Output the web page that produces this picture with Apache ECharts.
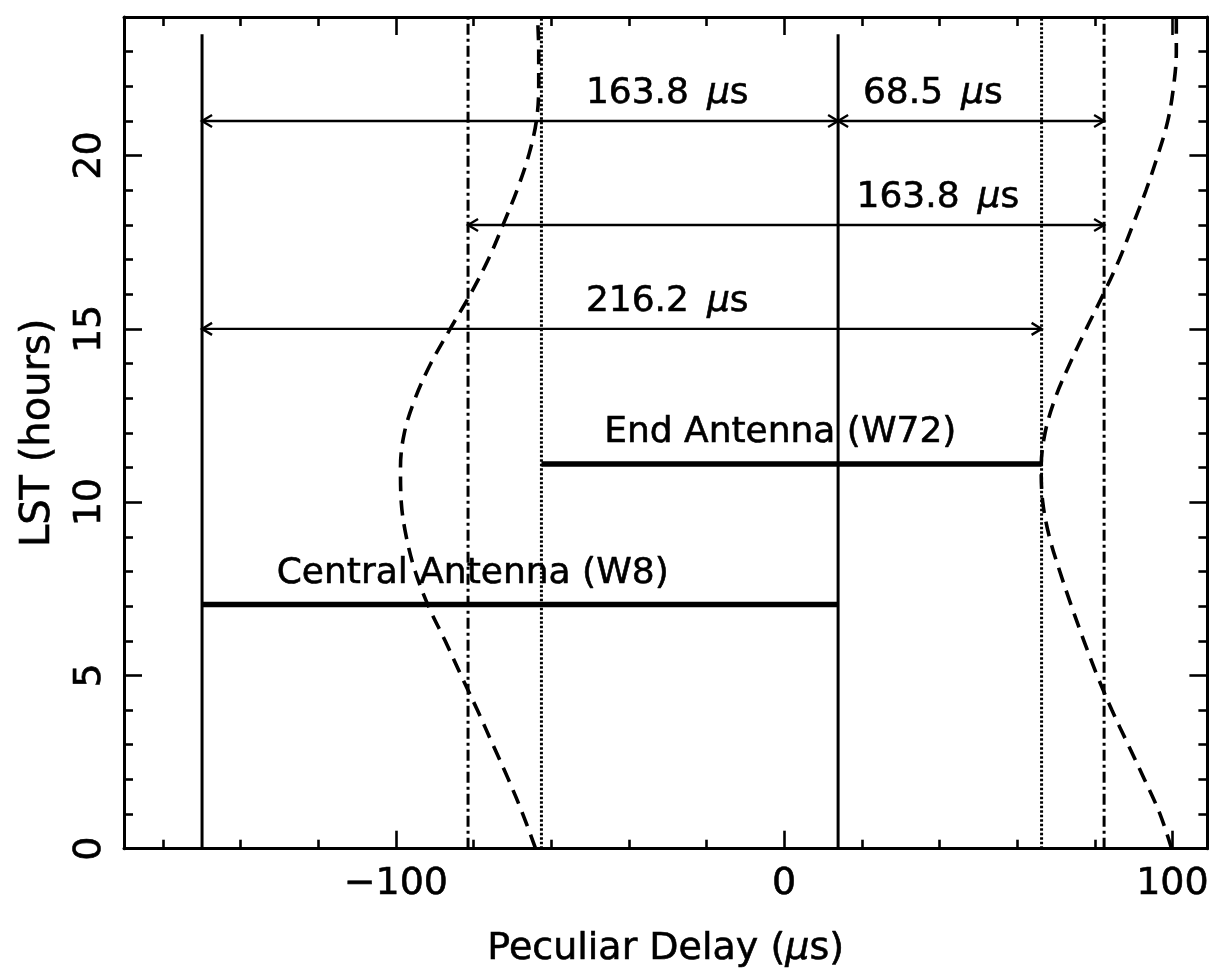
<!DOCTYPE html>
<html>
<head>
<meta charset="utf-8">
<script src="https://cdn.jsdelivr.net/npm/echarts@6/dist/echarts.min.js"></script>
<style>
  html, body { margin: 0; padding: 0; background: #ffffff; }
  #chart { width: 1212px; height: 973px; }
</style>
</head>
<body>
<div id="chart"></div>
<script>
// ---- axis ranges and ticks ----
const delayRange = [-170, 109];
const lstRange = [0, 24];
const xMajorTicks = [-100, 0, 100];
const xMinorTicks = [-160, -140, -120, -80, -60, -40, -20, 20, 40, 60, 80];
const yMajorTicks = [0, 5, 10, 15, 20];
const yMinorTicks = [1, 2, 3, 4, 6, 7, 8, 9, 11, 12, 13, 14, 16, 17, 18, 19, 21, 22, 23];

// ---- reference delays (µs) ----
const solidLineX = [-149.9, 13.9];
const solidLineTop = 23.5;
const dottedLineX = [-62.5, 66.3];
const dashDotLineX = [-81.4, 82.4];

// ---- antenna delay ranges ----
const antennaNames = ['Central Antenna (W8)', 'End Antenna (W72)'];
const antennaFrom = [-149.9, -62.5];
const antennaTo = [13.9, 66.3];
const antennaLST = [7.05, 11.1];

// ---- delay differences (double arrows) ----
const arrowFrom = [-149.9, 13.9, -81.4, -149.9];
const arrowSpan = [163.8, 68.5, 163.8, 216.2];
const arrowLST = [21, 21, 18, 15];

// ---- peculiar delay tracks against LST ----
const trackLST = [0, 1, 2, 3, 4, 5, 6, 7, 8, 9, 10, 11, 12, 13, 14, 15, 16, 17, 18, 19, 20, 21, 22, 23, 24];
const centralTrack = [-64.0, -67.3, -71.0, -75.0, -79.0, -83.2, -87.3, -91.6, -95.0, -97.3, -98.6, -98.8,
                      -97.8, -95.0, -91.0, -86.0, -80.8, -76.2, -72.4, -68.8, -65.8, -63.8, -63.2, -63.2, -63.5];
const endTrack = [99.8, 96.8, 92.8, 88.6, 84.4, 80.6, 77.2, 74.0, 71.0, 68.3, 66.6, 66.2,
                  67.2, 69.8, 73.6, 77.8, 82.2, 86.3, 89.8, 93.2, 96.2, 98.8, 100.3, 101.0, 101.0];

// ---- layout (label anchors, pixel offsets) ----
const layout = {
  arrowLabelX: [-30.1, 38.3, 39.6, -30.1],
  arrowLabelLift: 27,
  antennaLabelX: [-80.2, -1.0],
  antennaLabelLift: 31
};

const FONT = "'DejaVu Sans', sans-serif";
const INK = '#000000';
const TEXT_EDGE = 0.6;
const muRich = { mu: { fontStyle: 'italic', fontFamily: FONT, fontSize: 36, fill: INK, color: INK,
                       stroke: INK, lineWidth: TEXT_EDGE } };

function minusFmt(v) { return v < 0 ? '\u2212' + Math.abs(v) : String(v); }

function vLine(x, top, type, width) {
  return {
    type: 'line', xAxisIndex: 0, yAxisIndex: 0, symbol: 'none', silent: true,
    data: [[x, lstRange[0]], [x, top]],
    lineStyle: { color: INK, width: width, type: type }, z: 3
  };
}

function xAxisDef(position, ticks, len, showLine, labels) {
  return {
    type: 'value', position: position, min: delayRange[0], max: delayRange[1],
    axisLine: { show: showLine, onZero: false, lineStyle: { color: INK, width: 3 } },
    axisTick: { show: true, inside: true, length: len, customValues: ticks, lineStyle: { color: INK, width: 2.6 } },
    axisLabel: labels ? {
      show: true, customValues: ticks, formatter: minusFmt, margin: 16,
      fontFamily: FONT, fontSize: 38, color: INK, textBorderColor: INK, textBorderWidth: TEXT_EDGE
    } : { show: false },
    splitLine: { show: false }
  };
}

function yAxisDef(position, ticks, len, showLine, labels) {
  return {
    type: 'value', position: position, min: lstRange[0], max: lstRange[1],
    axisLine: { show: showLine, onZero: false, lineStyle: { color: INK, width: 3 } },
    axisTick: { show: true, inside: true, length: len, customValues: ticks, lineStyle: { color: INK, width: 2.6 } },
    axisLabel: labels ? {
      show: true, customValues: ticks, rotate: 90, margin: 15,
      fontFamily: FONT, fontSize: 38, color: INK, textBorderColor: INK, textBorderWidth: TEXT_EDGE
    } : { show: false },
    splitLine: { show: false }
  };
}

const xAxes = [
  xAxisDef('bottom', xMajorTicks, 18, true, true),
  xAxisDef('bottom', xMinorTicks, 9, false, false),
  xAxisDef('top', xMajorTicks, 18, true, false),
  xAxisDef('top', xMinorTicks, 9, false, false)
];
Object.assign(xAxes[0], {
  name: 'Peculiar Delay ({mu|µ}s)', nameLocation: 'middle', nameGap: 81,
  nameTextStyle: { fontFamily: FONT, fontSize: 38, color: INK, textBorderColor: INK, textBorderWidth: TEXT_EDGE,
    rich: { mu: { fontStyle: 'italic', fontFamily: FONT, fontSize: 38, color: INK,
                  textBorderColor: INK, textBorderWidth: TEXT_EDGE } } }
});

const yAxes = [
  yAxisDef('left', yMajorTicks, 18, true, true),
  yAxisDef('left', yMinorTicks, 9, false, false),
  yAxisDef('right', yMajorTicks, 18, true, false),
  yAxisDef('right', yMinorTicks, 9, false, false)
];
Object.assign(yAxes[0], {
  name: 'LST (hours)', nameLocation: 'middle', nameGap: 65, nameRotate: 90,
  nameTextStyle: { fontFamily: FONT, fontSize: 40, color: INK, textBorderColor: INK, textBorderWidth: TEXT_EDGE }
});

const series = [];

// vertical reference lines
solidLineX.forEach(x => series.push(vLine(x, solidLineTop, 'solid', 3)));
dottedLineX.forEach(x => series.push(vLine(x, lstRange[1], [2.5, 2], 3)));
dashDotLineX.forEach(x => series.push(vLine(x, lstRange[1], [11, 4, 3, 4], 3)));

// antenna delay bars
antennaNames.forEach((name, i) => {
  series.push({
    type: 'line', name: name, symbol: 'none', silent: true,
    data: [[antennaFrom[i], antennaLST[i]], [antennaTo[i], antennaLST[i]]],
    lineStyle: { color: INK, width: 5.5 }, z: 4
  });
});

// antenna labels
series.push({
  type: 'custom', silent: true, z: 6,
  data: antennaNames.map((n, i) => [layout.antennaLabelX[i], antennaLST[i]]),
  renderItem: (params, api) => {
    const p = api.coord([api.value(0), api.value(1)]);
    return {
      type: 'text', x: p[0], y: p[1] - layout.antennaLabelLift,
      style: { text: antennaNames[params.dataIndex], fontFamily: FONT, fontSize: 36,
               fill: INK, stroke: INK, lineWidth: TEXT_EDGE, align: 'center', verticalAlign: 'middle' }
    };
  }
});

// delay tracks
[centralTrack, endTrack].forEach(track => {
  series.push({
    type: 'line', symbol: 'none', silent: true, smooth: 0.35,
    data: trackLST.map((t, i) => [track[i], t]),
    lineStyle: { color: INK, width: 3.6, type: [15, 9] }, z: 5
  });
});

// double-headed delay arrows with their values
series.push({
  type: 'custom', silent: true, z: 6,
  data: arrowFrom.map((x, i) => [x, x + arrowSpan[i], arrowLST[i], layout.arrowLabelX[i]]),
  renderItem: (params, api) => {
    const a = api.coord([api.value(0), api.value(2)]);
    const b = api.coord([api.value(1), api.value(2)]);
    const lx = api.coord([api.value(3), api.value(2)])[0];
    const hl = 10, hw = 6;
    const st = { stroke: INK, lineWidth: 2.4, fill: null };
    return {
      type: 'group',
      children: [
        { type: 'line', shape: { x1: a[0], y1: a[1], x2: b[0], y2: b[1] }, style: st },
        { type: 'polyline', shape: { points: [[a[0] + hl, a[1] - hw], [a[0], a[1]], [a[0] + hl, a[1] + hw]] }, style: st },
        { type: 'polyline', shape: { points: [[b[0] - hl, b[1] - hw], [b[0], b[1]], [b[0] - hl, b[1] + hw]] }, style: st },
        { type: 'text', x: lx, y: a[1] - layout.arrowLabelLift,
          style: { text: arrowSpan[params.dataIndex].toFixed(1) + '\u2002{mu|µ}s', rich: muRich,
                   fontFamily: FONT, fontSize: 36, fill: INK, stroke: INK, lineWidth: TEXT_EDGE,
                   align: 'center', verticalAlign: 'middle' } }
      ]
    };
  }
});

const chart = echarts.init(document.getElementById('chart'), null, { renderer: 'canvas' });
chart.setOption({
  animation: false,
  backgroundColor: '#ffffff',
  grid: { left: 124, right: 3, top: 17, bottom: 123, containLabel: false },
  xAxis: xAxes,
  yAxis: yAxes,
  series: series
});
</script>
</body>
</html>
